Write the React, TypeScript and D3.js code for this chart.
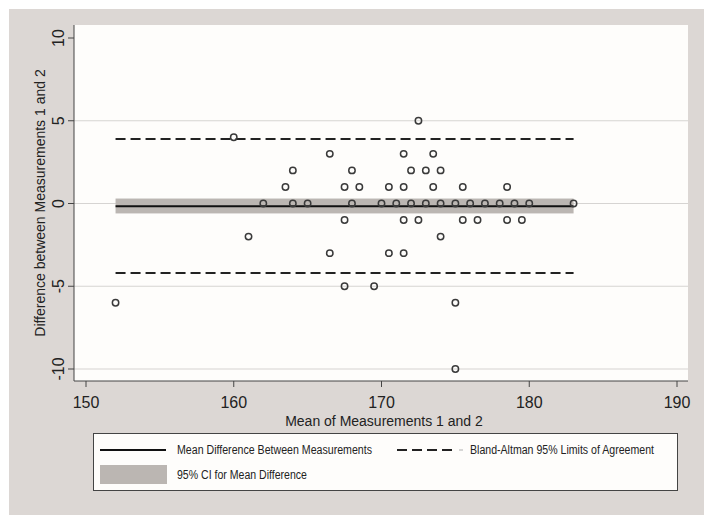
import React from "react";
import * as d3 from "d3";

const xVals = [152,160,161,162,163.5,164,164,165,166.5,166.5,167.5,167.5,167.5,168,168,168.5,169.5,170,170.5,170.5,171,171.5,171.5,171.5,171.5,172,172,172.5,172.5,173,173,173.5,173.5,174,174,174,175,175,175,175.5,175.5,176,176.5,177,178,178.5,178.5,179,179.5,180,183];
const yVals = [-6,4,-2,0,1,2,0,0,3,-3,1,-1,-5,2,0,1,-5,0,1,-3,0,3,1,-1,-3,2,0,5,-1,2,0,3,1,2,0,-2,0,-6,-10,1,-1,0,-1,0,0,1,-1,0,-1,0,0];
const xTicks = [150,160,170,180,190];
const yTicks = [-10,-5,0,5,10];
const yGrid = [-10,-5,0,5];
const meanDiff = -0.17;
const ciLow = -0.6;
const ciHigh = 0.3;
const loaUpper = 3.9;
const loaLower = -4.2;
const legendLabels = ["Mean Difference Between Measurements","Bland-Altman 95% Limits of Agreement","95% CI for Mean Difference"];

export default function App() {
  const W = 714, H = 522;
  const plotL = 74, plotR = 688, plotT = 25, plotB = 381;
  const x = d3.scaleLinear().domain([150,190]).range([86,677]);
  const y = d3.scaleLinear().domain([-10,10]).range([369,38]);
  const xMin = d3.min(xVals) as number;
  const xMax = d3.max(xVals) as number;
  const font = "'Liberation Sans', Arial, Helvetica, sans-serif";
  const narrow = "'Liberation Sans Narrow', 'Arial Narrow', 'Liberation Sans', Arial, sans-serif";
  return (
    <div style={{position:"absolute", left:0, top:0}}>
      <svg width={W} height={H} style={{display:"block"}}>
        <rect x={0} y={0} width={W} height={H} fill="#ffffff" />
        <rect x={9} y={9} width={695} height={506} fill="#dcd7d4" />
        <rect x={plotL} y={plotT} width={plotR-plotL} height={plotB-plotT} fill="#fefdfb" />
        {yGrid.map(v => (
          <line key={"g"+v} x1={plotL} x2={plotR} y1={y(v)} y2={y(v)} stroke="#d6d4d2" strokeWidth={1.2} />
        ))}
        <rect x={x(xMin)} y={y(ciHigh)} width={x(xMax)-x(xMin)} height={y(ciLow)-y(ciHigh)} fill="#bbb6b2" />
        <line x1={x(xMin)} x2={x(xMax)} y1={y(meanDiff)} y2={y(meanDiff)} stroke="#111" strokeWidth={2} />
        <line x1={x(xMin)} x2={x(xMax)} y1={y(loaUpper)} y2={y(loaUpper)} stroke="#222" strokeWidth={2} strokeDasharray="10,5" />
        <line x1={x(xMin)} x2={x(xMax)} y1={y(loaLower)} y2={y(loaLower)} stroke="#222" strokeWidth={2} strokeDasharray="10,5" />
        {xVals.map((v,i) => (
          <circle key={"p"+i} cx={x(v)} cy={y(yVals[i])} r={3.2} fill="none" stroke="#3a3a3a" strokeWidth={1.5} />
        ))}
        {/* axes */}
        <line x1={plotL} x2={plotL} y1={plotT} y2={plotB} stroke="#444" strokeWidth={1} />
        <line x1={plotL} x2={plotR} y1={plotB} y2={plotB} stroke="#444" strokeWidth={1} />
        {xTicks.map(t => (
          <g key={"xt"+t}>
            <line x1={x(t)} x2={x(t)} y1={plotB} y2={plotB+6} stroke="#444" strokeWidth={1} />
            <text x={x(t)} y={408} textAnchor="middle" fontFamily={font} fontSize={16} fill="#222">{t}</text>
          </g>
        ))}
        {yTicks.map(t => (
          <g key={"yt"+t}>
            <line x1={plotL-6} x2={plotL} y1={y(t)} y2={y(t)} stroke="#444" strokeWidth={1} />
            <text transform={`translate(64,${y(t)}) rotate(-90)`} textAnchor="middle" fontFamily={font} fontSize={16} fill="#222">{t}</text>
          </g>
        ))}
        <text x={(plotL+plotR)/2+3} y={426} textAnchor="middle" fontFamily={font} fontSize={14} fill="#222">Mean of Measurements 1 and 2</text>
        <text transform={`translate(45,${(plotT+plotB)/2}) rotate(-90)`} textAnchor="middle" fontFamily={font} fontSize={14} fill="#222">Difference between Measurements 1 and 2</text>
        {/* legend */}
        <rect x={93.5} y={433.5} width={584} height={57} fill="#fefdfb" stroke="#444" strokeWidth={1} />
        <line x1={100} x2={166} y1={450} y2={450} stroke="#111" strokeWidth={2} />
        <text x={177} y={454} fontFamily={narrow} fontSize={12} fill="#222" textLength={195} lengthAdjust="spacingAndGlyphs">{legendLabels[0]}</text>
        <line x1={397} x2={456} y1={450} y2={450} stroke="#222" strokeWidth={2} strokeDasharray="10,5" />
        <line x1={459} x2={463} y1={450} y2={450} stroke="#c8c8c8" strokeWidth={1.5} />
        <text x={470} y={454} fontFamily={narrow} fontSize={12} fill="#222" textLength={184} lengthAdjust="spacingAndGlyphs">{legendLabels[1]}</text>
        <rect x={100} y={465} width={67} height={19} fill="#bbb6b2" />
        <text x={177} y={479} fontFamily={narrow} fontSize={12} fill="#222" textLength={130} lengthAdjust="spacingAndGlyphs">{legendLabels[2]}</text>
      </svg>
    </div>
  );
}
